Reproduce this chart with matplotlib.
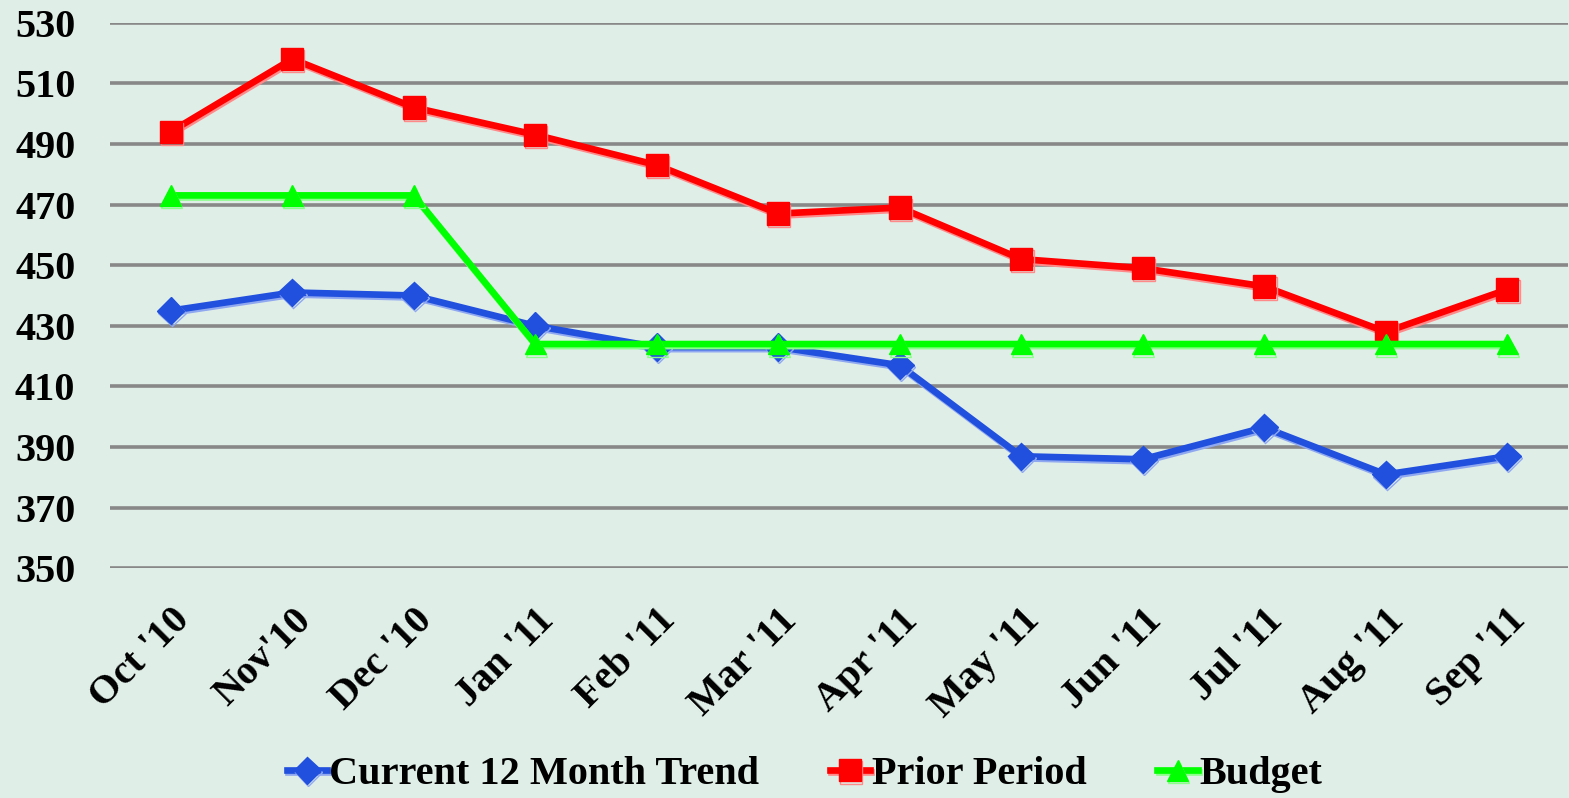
import matplotlib.pyplot as plt
import matplotlib.patheffects as pe
import numpy as np

months = ["Oct '10", "Nov'10", "Dec '10", "Jan '11", "Feb '11", "Mar '11",
          "Apr '11", "May '11", "Jun '11", "Jul '11", "Aug '11", "Sep '11"]
current_trend = [435, 441, 440, 430, 423, 423, 417, 387, 386, 396.5, 381, 387]
prior_period = [494, 518, 502, 493, 483, 467, 469, 452, 449, 443, 428, 442]
budget = [473, 473, 473, 424, 424, 424, 424, 424, 424, 424, 424, 424]
yticks = [350, 370, 390, 410, 430, 450, 470, 490, 510, 530]

bg = '#e0eee8'
plt.rcParams['font.family'] = ['Liberation Serif', 'DejaVu Serif']
plt.rcParams['font.weight'] = 'bold'

fig = plt.figure(figsize=(15.69, 7.98), dpi=100, facecolor=bg)
ax = fig.add_axes([0.0701, 0.2876, 0.9293, 0.6842])
ax.set_facecolor(bg)

x = np.arange(len(months))
series = [
    (current_trend, 'Current 12 Month Trend', '#2050dd', '#8fa8f0', 'D', 14),
    (prior_period, 'Prior Period', '#ff0000', '#ff8a8a', 's', 16),
    (budget, 'Budget', '#00ff00', '#8aff8a', '^', 15),
]
for vals, label, col, shade, mk, ms in series:
    ax.plot(x, vals, color=col, lw=4.8, marker=mk, markersize=ms,
            markeredgecolor=col, label=label, zorder=3,
            path_effects=[pe.SimpleLineShadow(offset=(0.8, -1.5), shadow_color=shade, alpha=1.0),
                          pe.Normal()])

ax.set_xlim(-0.5, len(months) - 0.5)
ax.set_ylim(350, 530)
ax.set_yticks(yticks)
ax.set_xticks(x)
ax.set_xticklabels(months, rotation=45, ha='right', rotation_mode='anchor', fontsize=29)
ax.tick_params(axis='both', length=0)
ax.tick_params(axis='y', pad=25, labelsize=29)
ax.tick_params(axis='x', pad=24)
ax.grid(True, axis='y', color='#888888', lw=2.6, zorder=0)
for s in ax.spines.values():
    s.set_visible(False)

handles, labels = ax.get_legend_handles_labels()
fig.legend(handles, labels, loc='center', bbox_to_anchor=(0.513, 0.029), ncol=3, frameon=False,
           fontsize=29, handlelength=1.0, handletextpad=0.05, columnspacing=1.75, borderaxespad=0)

plt.savefig('out.png', dpi=100, facecolor=bg)
